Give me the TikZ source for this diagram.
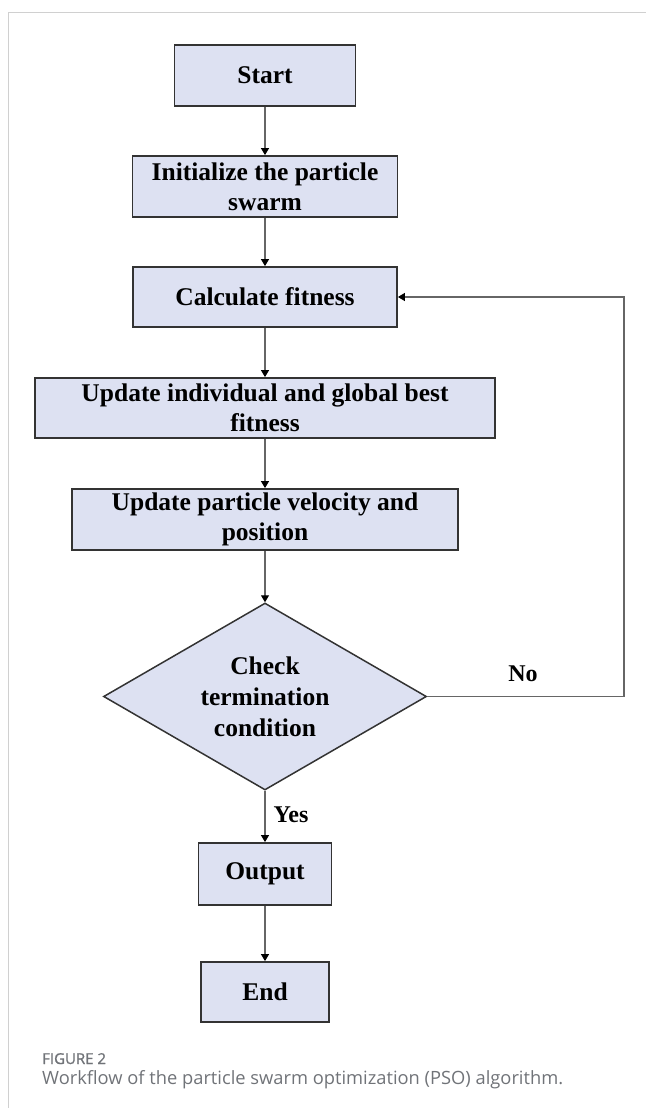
\documentclass[tikz,border=0pt]{standalone}
\usepackage{fontspec}
\setmainfont{Liberation Serif}
\newfontfamily\capfont{Open Sans}
\newfontfamily\capboldfont[FakeBold=1.2]{Open Sans}
\usetikzlibrary{arrows.meta,shapes.geometric}
\definecolor{boxfill}{HTML}{DDE1F2}
\definecolor{boxline}{HTML}{333333}
\definecolor{arrline}{HTML}{666666}
\definecolor{framegray}{HTML}{D0D0D0}
\definecolor{capgray}{HTML}{707378}
\tikzset{
  procbox/.style={draw=boxline, line width=1.8pt, fill=boxfill, rectangle, inner sep=0pt,
    align=center, font=\fontsize{25.5}{30}\selectfont\bfseries},
  decbox/.style={draw=boxline, line width=1.5pt, fill=boxfill, diamond, aspect=1.73, inner sep=0pt,
    minimum width=323pt, minimum height=187pt, align=center, font=\fontsize{25.5}{31}\selectfont\bfseries},
  flow/.style={draw=arrline, line width=1.1pt, -{Triangle[length=7pt,width=8pt,color=black]}},
  lbl/.style={font=\fontsize{24}{28}\selectfont\bfseries, inner sep=0pt},
  capstyle/.style={anchor=base west, inner sep=0pt, text=capgray}
}
\begin{document}
\begin{tikzpicture}[x=1pt,y=-1pt]
\useasboundingbox (0,0) rectangle (646,1108);
% frame
\draw[framegray, line width=1.2pt] (8.5,1108) -- (8.5,12.5) -- (646,12.5);
% nodes
\node[procbox, minimum width=181pt, minimum height=61pt] (start) at (265,75.5) {Start};
\node[procbox, minimum width=265pt, minimum height=61pt] (init) at (265,186.5) {Initialize the particle\\swarm};
\node[procbox, minimum width=264pt, minimum height=60pt] (calc) at (265,297) {Calculate fitness};
\node[procbox, minimum width=460pt, minimum height=60pt] (updind) at (265,408) {Update individual and global best\\fitness};
\node[procbox, minimum width=386pt, minimum height=61pt] (updvel) at (265,519.5) {Update particle velocity and\\position};
\node[decbox] (check) at (265,696.5) {Check\\termination\\condition};
\node[procbox, minimum width=133pt, minimum height=62pt] (out) at (265,874) {Output};
\node[procbox, minimum width=128pt, minimum height=60pt] (end) at (265,992) {End};
\coordinate (fb) at (624,696.5);
% connectors
\draw[flow] (start) -- (init);
\draw[flow] (init) -- (calc);
\draw[flow] (calc) -- (updind);
\draw[flow] (updind) -- (updvel);
\draw[flow] (updvel) -- (check);
\draw[flow] (check) -- (out);
\draw[flow] (out) -- (end);
\draw[flow] (check.east) -- (fb) |- (calc.east);
% labels
\node[lbl] (no) at (523,674) {No};
\node[lbl] (yes) at (291,815) {Yes};
% caption
\node[capstyle, font=\capboldfont\fontsize{15}{18}\selectfont] (figlbl) at (42,1064) {FIGURE 2};
\node[capstyle, font=\capfont\fontsize{18.3}{21}\selectfont] (figcap) at (42,1084) {Workflow of the particle swarm optimization (PSO) algorithm.};
\end{tikzpicture}
\end{document}
